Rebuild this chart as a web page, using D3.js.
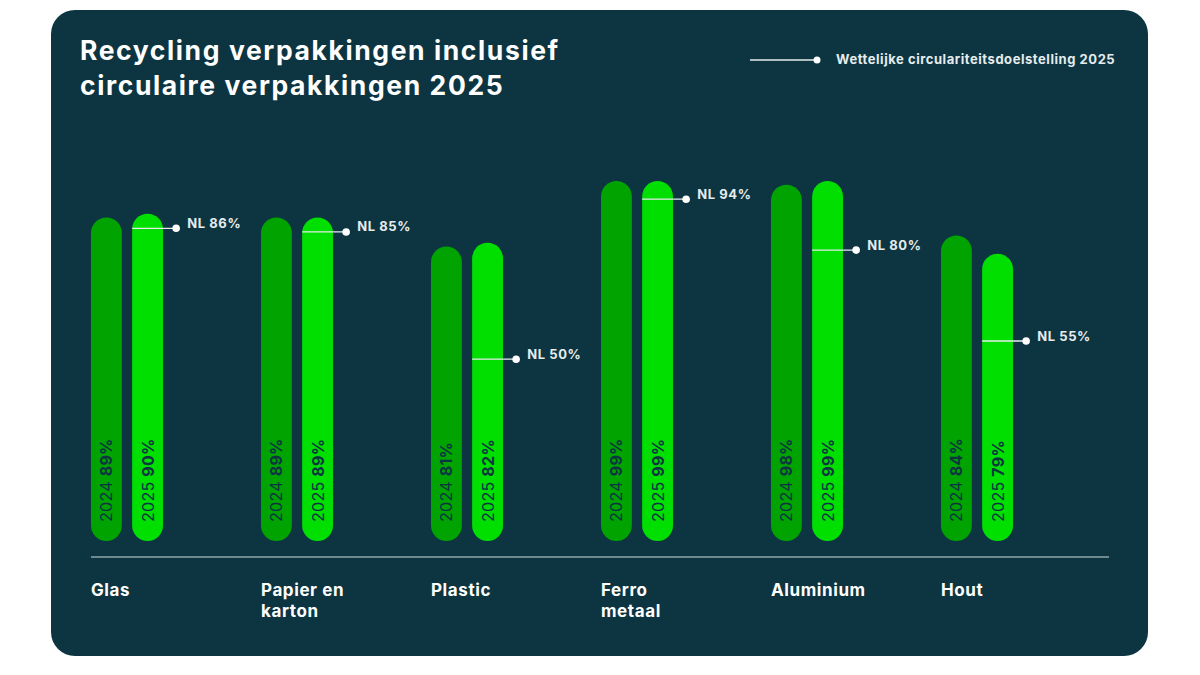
<!DOCTYPE html>
<html>
<head>
<meta charset="utf-8">
<script src="https://cdn.jsdelivr.net/npm/d3@7"></script>
<style>
  html, body { margin: 0; padding: 0; background: #ffffff; }
  svg { display: block; }
</style>
</head>
<body>
<div id="chart"></div>
<script>
// data
const categories = ["Glas", "Papier en karton", "Plastic", "Ferro metaal", "Aluminium", "Hout"];
const categoryLines = [["Glas"], ["Papier en", "karton"], ["Plastic"], ["Ferro", "metaal"], ["Aluminium"], ["Hout"]];
const years = ["2024", "2025"];
const values2024 = [89, 89, 81, 99, 98, 84];
const values2025 = [90, 89, 82, 99, 99, 79];
const targets2025 = [86, 85, 50, 94, 80, 55];

const width = 1200, height = 675;
const bg = "#0c3541";
const colors = { "2024": "#00a300", "2025": "#00df00" };
const font = "Inter, 'Noto Sans', sans-serif";

const svg = d3.select("#chart").append("svg")
    .attr("width", width)
    .attr("height", height);

// card
svg.append("rect")
    .attr("x", 51).attr("y", 10)
    .attr("width", 1097).attr("height", 646)
    .attr("rx", 24)
    .attr("fill", bg);

// title
svg.append("text")
    .attr("x", 80).attr("y", 60)
    .attr("fill", "#ffffff")
    .style("font-family", font)
    .style("font-weight", 700)
    .style("font-size", "26.5px")
    .style("letter-spacing", "1.6px")
    .selectAll("tspan")
    .data(["Recycling verpakkingen inclusief", "circulaire verpakkingen 2025"])
    .join("tspan")
    .attr("x", 80)
    .attr("dy", (d, i) => i === 0 ? 0 : 35)
    .text(d => d);

// legend
const legend = svg.append("g");
legend.append("line")
    .attr("x1", 750).attr("x2", 816)
    .attr("y1", 60).attr("y2", 60)
    .attr("stroke", "#e6eced").attr("stroke-width", 1.3);
legend.append("circle")
    .attr("cx", 817).attr("cy", 60).attr("r", 3.5)
    .attr("fill", "#ffffff");
legend.append("text")
    .attr("x", 836).attr("y", 64)
    .attr("fill", "#e6eced")
    .style("font-family", font)
    .style("font-weight", 700)
    .style("font-size", "13px")
    .style("letter-spacing", "0.55px")
    .text("Wettelijke circulariteitsdoelstelling 2025");

// scales
const x0 = d3.scaleBand()
    .domain(categories)
    .range([91, 1111])
    .paddingInner(0.0)
    .paddingOuter(0);

const x1 = d3.scaleBand()
    .domain(years)
    .range([0, 72])
    .paddingInner(0.25)
    .paddingOuter(0);

const baseY = 541;
const y = d3.scaleLinear()
    .domain([0, 100])
    .range([baseY, baseY - 363.6]);

const rows = categories.map((c, i) => ({
    cat: c,
    lines: categoryLines[i],
    target: targets2025[i],
    bars: [
        { year: "2024", value: values2024[i] },
        { year: "2025", value: values2025[i] }
    ]
}));

const groups = svg.selectAll(".group")
    .data(rows)
    .join("g")
    .attr("class", "group")
    .attr("transform", d => "translate(" + x0(d.cat) + ",0)");

const bw = x1.bandwidth();

// bars
groups.selectAll(".bar")
    .data(d => d.bars)
    .join("rect")
    .attr("class", "bar")
    .attr("x", d => x1(d.year))
    .attr("y", d => y(d.value))
    .attr("width", bw)
    .attr("height", d => baseY - y(d.value))
    .attr("rx", bw / 2)
    .attr("fill", d => colors[d.year]);

// rotated labels inside bars
const barLabels = groups.selectAll(".bar-label")
    .data(d => d.bars)
    .join("text")
    .attr("class", "bar-label")
    .attr("transform", d => "translate(" + (x1(d.year) + bw / 2 + 6) + "," + (baseY - 19) + ") rotate(-90)")
    .attr("fill", "#0c3541")
    .style("font-family", font)
    .style("font-size", "16px")
    .style("letter-spacing", "0.3px");

barLabels.append("tspan")
    .style("font-weight", 400)
    .text(d => d.year + " ");
barLabels.append("tspan")
    .style("font-weight", 700)
    .text(d => d.value + "%");

// target markers
const tx = x1("2025");
groups.append("line")
    .attr("x1", tx)
    .attr("x2", tx + 44)
    .attr("y1", d => y(d.target))
    .attr("y2", d => y(d.target))
    .attr("stroke", "#e6eced")
    .attr("stroke-width", 1.3);
groups.append("circle")
    .attr("cx", tx + 44)
    .attr("cy", d => y(d.target))
    .attr("r", 3.8)
    .attr("fill", "#ffffff");
groups.append("text")
    .attr("x", tx + 55)
    .attr("y", d => y(d.target) - 0.5)
    .attr("fill", "#e6eced")
    .style("font-family", font)
    .style("font-weight", 700)
    .style("font-size", "13px")
    .style("letter-spacing", "0.6px")
    .text(d => "NL " + d.target + "%");

// baseline
svg.append("line")
    .attr("x1", 91).attr("x2", 1109)
    .attr("y1", 557).attr("y2", 557)
    .attr("stroke", "#8fa5ab")
    .attr("stroke-width", 1.5);

// category labels
groups.append("text")
    .attr("y", 596)
    .attr("fill", "#ffffff")
    .style("font-family", font)
    .style("font-weight", 700)
    .style("font-size", "17px")
    .style("letter-spacing", "0.6px")
    .selectAll("tspan")
    .data(d => d.lines)
    .join("tspan")
    .attr("x", 0)
    .attr("dy", (d, i) => i === 0 ? 0 : 21)
    .text(d => d);
</script>
</body>
</html>
